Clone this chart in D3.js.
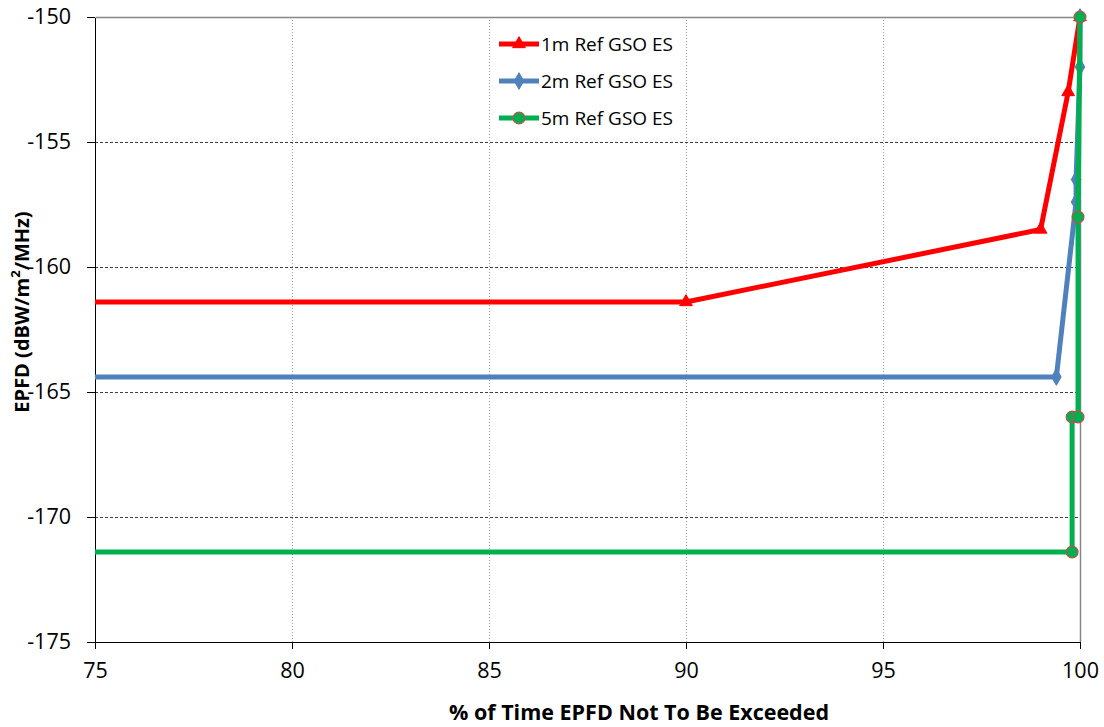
<!DOCTYPE html>
<html>
<head>
<meta charset="utf-8">
<script src="https://cdn.jsdelivr.net/npm/d3@7"></script>
<style>
  body { margin: 0; background: #fff; }
  text { font-family: "Open Sans", "Noto Sans", sans-serif; fill: #000; }
  .axis path, .axis line { stroke: #000; stroke-width: 1; shape-rendering: crispEdges; }
  .axis text { font-size: 21.5px; }
  .axis-label { font-size: 21.5px; font-weight: bold; }
  .y-label { font-size: 20px; }
  .legend text { font-size: 19px; }
</style>
</head>
<body>
<div id="chart"></div>
<script>
(function() {
    var width = 1104, height = 727;
    var margin = {top: 17, right: 24, bottom: 85, left: 95};

    // tick labels
    var xTicks = [75, 80, 85, 90, 95, 100];
    var yTicks = [-150, -155, -160, -165, -170, -175];

    // series
    var names = ["1m Ref GSO ES", "2m Ref GSO ES", "5m Ref GSO ES"];
    var red1mX = [75, 90, 99, 99.7, 100];
    var red1mY = [-161.4, -161.4, -158.5, -153, -150];
    var blue2mX = [75, 99.4, 99.9, 99.9, 100, 100];
    var blue2mY = [-164.4, -164.4, -157.4, -156.5, -152, -150];
    var green5mX = [75, 99.8, 99.8, 99.95, 99.95, 100];
    var green5mY = [-171.4, -171.4, -166, -166, -158, -150];

    var series = [
        {name: names[0], xs: red1mX, ys: red1mY, color: "#ff0000", marker: "triangle"},
        {name: names[1], xs: blue2mX, ys: blue2mY, color: "#4f81bd", marker: "diamond"},
        {name: names[2], xs: green5mX, ys: green5mY, color: "#00b050", marker: "circle"}
    ];

    var w = width - margin.left - margin.right,
        h = height - margin.top - margin.bottom;

    var svg = d3.select("#chart").append("svg")
        .attr("width", width)
        .attr("height", height);

    var plot = svg.append("g")
        .attr("transform", "translate(" + margin.left + "," + margin.top + ")");

    var xScale = d3.scaleLinear().domain([75, 100]).range([0, w]);
    var yScale = d3.scaleLinear().domain([-175, -150]).range([h, 0]);

    // vertical gridlines (dotted)
    plot.selectAll("line.vgrid")
        .data(xTicks.slice(1, -1))
        .enter().append("line")
        .attr("class", "vgrid")
        .attr("x1", function(d) { return Math.round(xScale(d)) + 0.5; })
        .attr("x2", function(d) { return Math.round(xScale(d)) + 0.5; })
        .attr("y1", 0).attr("y2", h)
        .attr("stroke", "#a0a0a0")
        .attr("stroke-dasharray", "1,2");

    // horizontal gridlines (dashed)
    plot.selectAll("line.hgrid")
        .data(yTicks.slice(1, -1))
        .enter().append("line")
        .attr("class", "hgrid")
        .attr("x1", 0).attr("x2", w)
        .attr("y1", function(d) { return Math.round(yScale(d)) + 0.5; })
        .attr("y2", function(d) { return Math.round(yScale(d)) + 0.5; })
        .attr("stroke", "#404040")
        .attr("stroke-dasharray", "3,2");

    // plot border top/right
    plot.append("path")
        .attr("d", "M0.5,0.5H" + (Math.round(w) + 0.5) + "V" + h)
        .attr("fill", "none")
        .attr("stroke", "#868686")
        .attr("stroke-width", 1.5);

    var fmt = function(d) { return String(d); };
    var xAxis = d3.axisBottom(xScale).tickValues(xTicks).tickFormat(fmt)
        .tickSizeInner(7).tickSizeOuter(0).tickPadding(11);
    var yAxis = d3.axisLeft(yScale).tickValues(yTicks).tickFormat(fmt)
        .tickSizeInner(8).tickSizeOuter(0).tickPadding(16);

    plot.append("g")
        .attr("class", "axis x-axis")
        .attr("transform", "translate(0," + h + ")")
        .call(xAxis);

    plot.append("g")
        .attr("class", "axis y-axis")
        .call(yAxis);

    plot.selectAll(".x-axis .tick text").attr("dy", "0.85em");

    // axis labels
    svg.append("text")
        .attr("class", "axis-label")
        .attr("text-anchor", "middle")
        .attr("x", 639)
        .attr("y", 720)
        .text("% of Time EPFD Not To Be Exceeded");

    var yl = svg.append("text")
        .attr("class", "axis-label y-label")
        .attr("text-anchor", "middle")
        .attr("transform", "translate(29,312) rotate(-90)");
    yl.append("tspan").text("EPFD (dBW/m");
    yl.append("tspan").attr("baseline-shift", "super").attr("font-size", "13px").text("2");
    yl.append("tspan").text("/MHz)");

    svg.append("clipPath").attr("id", "plotclip")
        .append("rect").attr("x", 0).attr("y", -10).attr("width", w + 10).attr("height", h + 10);

    var symbols = {
        triangle: d3.symbol().type(d3.symbolTriangle).size(70),
        diamond: d3.symbol().type(d3.symbolDiamond).size(80),
        circle: d3.symbol().type(d3.symbolCircle).size(110)
    };

    var line = d3.line()
        .x(function(d) { return xScale(d[0]); })
        .y(function(d) { return yScale(d[1]); });

    series.forEach(function(s) {
        var pts = s.xs.map(function(x, i) { return [x, s.ys[i]]; });
        var g = plot.append("g").attr("clip-path", "url(#plotclip)");
        g.append("path")
            .datum(pts)
            .attr("fill", "none")
            .attr("stroke", s.color)
            .attr("stroke-width", 5)
            .attr("stroke-linejoin", "round")
            .attr("d", line);
        g.selectAll("path.pt")
            .data(pts.filter(function(d) { return d[0] > 75; }))
            .enter().append("path")
            .attr("class", "pt")
            .attr("transform", function(d) { return "translate(" + xScale(d[0]) + "," + yScale(d[1]) + ")"; })
            .attr("d", symbols[s.marker])
            .attr("fill", s.color)
            .attr("stroke", s.marker === "circle" ? "#c0504d" : s.color)
            .attr("stroke-width", s.marker === "circle" ? 1.2 : 1);
    });

    // legend
    var legend = svg.append("g")
        .attr("class", "legend")
        .attr("transform", "translate(499,44)");

    series.forEach(function(s, i) {
        var row = legend.append("g").attr("transform", "translate(0," + (i * 37) + ")");
        row.append("line")
            .attr("x1", 0).attr("x2", 40)
            .attr("stroke", s.color)
            .attr("stroke-width", 5);
        row.append("path")
            .attr("transform", "translate(20,0)")
            .attr("d", symbols[s.marker])
            .attr("fill", s.color)
            .attr("stroke", s.marker === "circle" ? "#c0504d" : s.color)
            .attr("stroke-width", s.marker === "circle" ? 1.2 : 1);
        row.append("text")
            .attr("x", 42)
            .attr("dy", "0.35em")
            .text(s.name);
    });
})();
</script>
</body>
</html>
